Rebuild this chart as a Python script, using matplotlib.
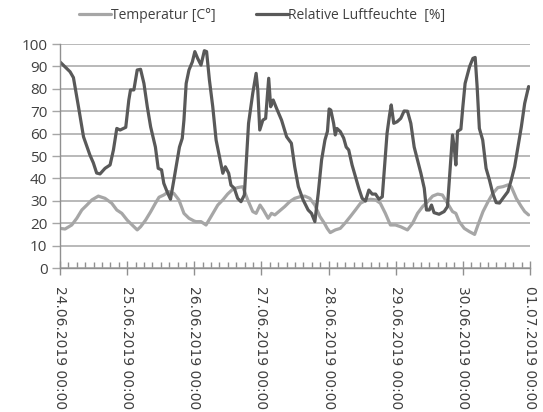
import matplotlib
matplotlib.use("Agg")
import matplotlib.pyplot as plt
import matplotlib.dates as mdates
from datetime import datetime, timedelta

start = datetime(2019, 6, 24, 0, 0)
end = datetime(2019, 7, 1, 0, 0)

hum_hours = [0, 3.6, 4.8, 6.6, 8.4, 10.7, 11.9, 13.1, 14.3, 16.1, 17.9, 19.1, 20.3, 21.5, 23.5,
             24.6, 25.2, 26.4, 27.6, 28.8, 30, 31.2, 32.4, 34.1, 35.1, 36.3, 37.1, 38.3, 39.5,
             40.7, 41.9, 42.7, 43.7, 44.3, 45.1, 46.1, 47.3, 48.2, 49.2, 50.4, 51.6, 52.4, 53.4,
             54.6, 55.8, 57, 58.2, 59.1, 60.3, 61.1, 62.3, 63.5, 64.7, 65.9, 66.7, 67.4, 68.9,
             70.1, 70.7, 71.4, 72.5, 73.5, 74.6, 75.3, 76.2, 77.4, 79.2, 81, 82.7, 83.9, 85.2,
             86.9, 88.7, 89.9, 91.1, 92.3, 93.5, 94.7, 95.6, 96.2, 96.8, 97.8, 98.4, 99, 100.2,
             101.4, 102.3, 103.2, 104.4, 105.6, 106.8, 108, 109.2, 110.4, 111.6, 112.8, 114,
             115.2, 116, 116.9, 117.8, 118.4, 119.3, 120.5, 121.8, 123, 124.2, 125.4, 126.6,
             127.8, 129, 130.2, 131, 132, 132.8, 133.7, 135.5, 137.3, 138.5, 139.5, 140.3, 140.9,
             141.5, 142.1, 143.3, 144, 144.8, 146.4, 147.6, 148.4, 149.1, 149.9, 151.1, 152.3,
             153.5, 154.7, 155.9, 157.1, 158.3, 160.1, 161.3, 162.5, 163.7, 164.9, 166.1, 167.5]
hum_values = [92, 87.6, 85, 72, 58.6, 50.4, 47, 42.4, 42, 44.5, 46, 52.7, 62.3, 61.6, 62.8,
              75, 79.5, 79.5, 88.4, 88.7, 82.4, 72, 63, 54, 44.5, 43.8, 37.8, 34, 30.7,
              39.3, 48.2, 54, 57.9, 66, 82.4, 88.4, 92, 96.6, 93.6, 90.6, 97, 96.6, 84,
              72, 57.1, 49.7, 42.3, 45.2, 42.3, 37, 35.6, 31.1, 29.6, 32.6, 49.7, 64.6, 78,
              86.9, 79.5, 61.6, 66, 66.8, 84.7, 72, 75, 71.3, 66, 58.6, 55.7, 45.2, 36.3,
              30.4, 25.9, 24.4, 20.7, 33.3, 48.2, 57.1, 61, 71, 70.5, 64.6, 59.4, 62.3, 60.9,
              58, 54, 52.7, 46, 40.8, 35.6, 31.1, 29.9, 34.8, 33, 33, 30.7,
              31.8, 45.2, 60.1, 68.3, 72.8, 64.6, 65.3, 66.8, 70.1, 70, 64.6, 54,
              48.2, 42.3, 35.6, 25.9, 25.9, 28.1, 24.7, 24, 25.2, 27.4, 45.2, 59.4, 54,
              46, 61, 62, 72, 82.4, 89.9, 93.6, 94, 81, 62.3, 57.1, 44.5,
              39.3, 33.3, 29.2, 29, 31.1, 34.1, 39.3, 45.2, 54, 63, 73.5, 81]

temp_hours = [0, 1.8, 4.2, 6, 7.8, 9.6, 11.4, 13.7, 16.1, 18.5, 20.3, 22.1, 24, 25.8, 27.6,
              28.8, 30.6, 32.4, 34.1, 35.4, 37.1, 38.9, 40.7, 42.5, 44.3, 46.1, 47.9, 48.6,
              50.4, 52.2, 54, 56.4, 58.2, 59.9, 61.7, 63.5, 65.3, 67.1, 68.9, 70.1, 71.5, 72.7,
              74.4, 75.6, 76.8, 78.6, 80.3, 82.1, 83.9, 85.7, 87.5, 89.3, 91.1, 92.9, 94.5,
              95.5, 96.6, 98.4, 100.2, 102, 103.8, 105.6, 107.4, 109.2, 111, 112.8, 114.5,
              116.3, 118.1, 119.9, 121.8, 124.2, 126, 127.8, 129.6, 131.4, 133.2, 135, 136.7,
              138.5, 140.3, 141.5, 142.7, 144.5, 146.4, 148.2, 149.4, 151.2, 153, 154.7, 156.5,
              158.3, 160.1, 161.3, 163.1, 164.9, 166.1, 167.5]
temp_values = [17.7, 17.4, 19.2, 22.2, 25.9, 28.1, 30.4, 32.1, 31.1, 28.9, 25.9, 24.4, 21.4, 19.2, 17,
               18.4, 21.4, 25.1, 28.9, 31.6, 32.6, 34.1, 33.3, 30.4, 24.4, 22.2, 21, 20.7,
               20.7, 19.2, 23, 28.1, 30.4, 33, 35.1, 35.9, 36.3, 30.4, 25.2, 24.4, 28.1, 25.9,
               22.2, 24.4, 23.7, 25.6, 27.4, 29.6, 31.1, 31.8, 32.1, 31.1, 28.1, 23, 20,
               17.7, 15.8, 17, 17.7, 20.2, 23, 25.9, 28.9, 30.1, 30.7, 30.4, 28.9,
               24.4, 19.2, 19.2, 18.4, 17, 19.9, 24.4, 27.4, 29.6, 32.1, 33, 32.6,
               28.9, 25.2, 24.4, 20.7, 17.7, 16.2, 15, 19.2, 25.2, 29.6, 33.3, 35.9,
               36.3, 37.1, 36.3, 31.1, 27.4, 25.2, 23.7]

temp_label = "Temperatur [C°]"
hum_label = "Relative Luftfeuchte  [%]"

temp_x = [start + timedelta(hours=h) for h in temp_hours]
hum_x = [start + timedelta(hours=h) for h in hum_hours]

text_col = "#404040"
fig = plt.figure(figsize=(5.43, 4.12), dpi=100)
ax = fig.add_axes([60/543, 144/412, 470/543, 224/412])

l1, = ax.plot(temp_x, temp_values, color="#a6a6a6", lw=2.3, label=temp_label, solid_capstyle="round")
l2, = ax.plot(hum_x, hum_values, color="#595959", lw=2.3, label=hum_label, solid_capstyle="round")

ax.set_xlim(start, end)
ax.set_ylim(0, 100)
ax.set_yticks(range(0, 101, 10))
ax.yaxis.grid(True, color="#a6a6a6", lw=1.1)
ax.set_axisbelow(True)
ax.xaxis.set_major_locator(mdates.DayLocator())
ax.xaxis.set_minor_locator(mdates.HourLocator(byhour=range(0, 24, 3)))
ax.xaxis.set_major_formatter(mdates.DateFormatter("%d.%m.%Y %H:%M"))

for s in ["top", "right"]:
    ax.spines[s].set_visible(False)
for s in ["left", "bottom"]:
    ax.spines[s].set_color("#909090")
    ax.spines[s].set_linewidth(1.0)

ax.tick_params(axis="y", direction="out", length=6, width=1, color="#a6a6a6", pad=3,
               labelsize=11, labelcolor=text_col)
ax.tick_params(axis="x", which="major", direction="inout", length=10, width=1, color="#909090",
               pad=8, labelsize=10, labelcolor=text_col)
ax.tick_params(axis="x", which="minor", direction="in", length=4, width=1, color="#909090")
for t in ax.get_yticklabels():
    t.set_fontfamily("Open Sans")
for t in ax.get_xticklabels():
    t.set_rotation(270)
    t.set_ha("center")
    t.set_va("top")
    t.set_fontfamily("DejaVu Sans")

fig.legend(handles=[l1, l2], loc="center", bbox_to_anchor=(262/543, 0.962), ncol=2, frameon=False,
           handlelength=2.3, handletextpad=0.0, columnspacing=2.9,
           prop={"family": "Open Sans", "size": 10}, labelcolor=text_col)

fig.savefig("out.png", dpi=100)
